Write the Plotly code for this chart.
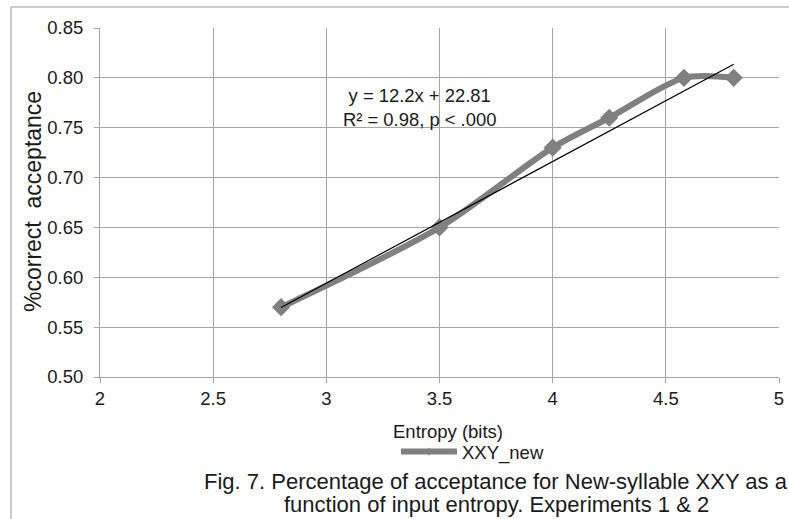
import plotly.graph_objects as go

# Entropy of the input (bits) and proportion of correct acceptance
entropy = [2.8, 3.5, 4.0, 4.25, 4.58, 4.8]
acceptance = [0.57, 0.65, 0.73, 0.76, 0.80, 0.80]
series_name = "XXY_new"

# Linear fit reported in percent: y = 12.2x + 22.81
slope_pct = 12.2
intercept_pct = 22.81
fit_x = [entropy[0], entropy[-1]]
fit_y = [(slope_pct * x + intercept_pct) / 100 for x in fit_x]

x_ticks = [2, 2.5, 3, 3.5, 4, 4.5, 5]
y_ticks = [0.50, 0.55, 0.60, 0.65, 0.70, 0.75, 0.80, 0.85]

W, H = 789, 519
L, R, T, B = 100, 10, 28, 142
PW, PH = W - L - R, H - T - B


def px(p):
    return (p - L) / PW


def py(p):
    return (H - B - p) / PH


FONT = "Liberation Sans, Arial, sans-serif"
INK = "#1a1a1a"
GRAY = "#808080"
GRID = "#a6a6a6"

fig = go.Figure()

fig.add_trace(go.Scatter(
    x=entropy, y=acceptance, mode="lines+markers",
    line=dict(color=GRAY, width=6, shape="spline", smoothing=0.8),
    marker=dict(symbol="diamond", size=14, color=GRAY),
    showlegend=False, hoverinfo="x+y",
))

fig.add_trace(go.Scatter(
    x=fit_x, y=fit_y, mode="lines",
    line=dict(color="black", width=1.2),
    showlegend=False,
))

# legend entry for the series
fig.add_trace(go.Scatter(
    x=[None], y=[None], mode="lines+markers", name=series_name,
    line=dict(color=GRAY, width=6),
    marker=dict(symbol="diamond", size=6, color=GRAY),
    showlegend=True,
))

axis_common = dict(
    showgrid=True, gridcolor=GRID, gridwidth=1,
    showline=True, linecolor=GRID, linewidth=1,
    ticks="outside", ticklen=5, tickcolor=GRID,
    tickfont=dict(family=FONT, size=18.5, color=INK),
    zeroline=False, mirror=False, automargin=False,
)

fig.update_xaxes(range=[2, 5], tickvals=x_ticks,
                 ticktext=[f"{v:g}" for v in x_ticks], **axis_common)
fig.update_yaxes(range=[0.50, 0.85], tickvals=y_ticks,
                 ticktext=[f"{v:.2f}" for v in y_ticks],
                 ticklabelstandoff=7, **axis_common)


def label(text, x, y, size, xanchor="center", angle=0):
    return dict(text=text, x=px(x), y=py(y), xref="paper", yref="paper",
                xanchor=xanchor, yanchor="middle", textangle=angle,
                showarrow=False, align="center",
                font=dict(family=FONT, size=size, color=INK))


annotations = [
    label("y = 12.2x + 22.81<br>R² = 0.98, p < .000", 419, 107.5, 18.4),
    label("%correct  acceptance", 33, 202, 23, angle=-90),
    label("Entropy (bits)", 448, 432, 18.5),
    label("Fig. 7. Percentage of acceptance for New-syllable XXY as a",
          202, 481, 22, xanchor="left"),
    label("function of input entropy. Experiments 1 & 2", 496, 504, 22),
]

fig.update_layout(
    width=W, height=H,
    margin=dict(l=L, r=R, t=T, b=B),
    paper_bgcolor="white", plot_bgcolor="white",
    annotations=annotations,
    legend=dict(orientation="h", x=px(396), y=py(452), xanchor="left",
                yanchor="middle", itemwidth=56,
                font=dict(family=FONT, size=18.5, color=INK),
                bgcolor="rgba(0,0,0,0)", tracegroupgap=0),
    shapes=[dict(type="rect", xref="paper", yref="paper",
                 x0=px(11), y0=py(530), x1=px(800), y1=py(7),
                 line=dict(color="#999999", width=1), layer="below")],
)

fig.write_html("out.html")
